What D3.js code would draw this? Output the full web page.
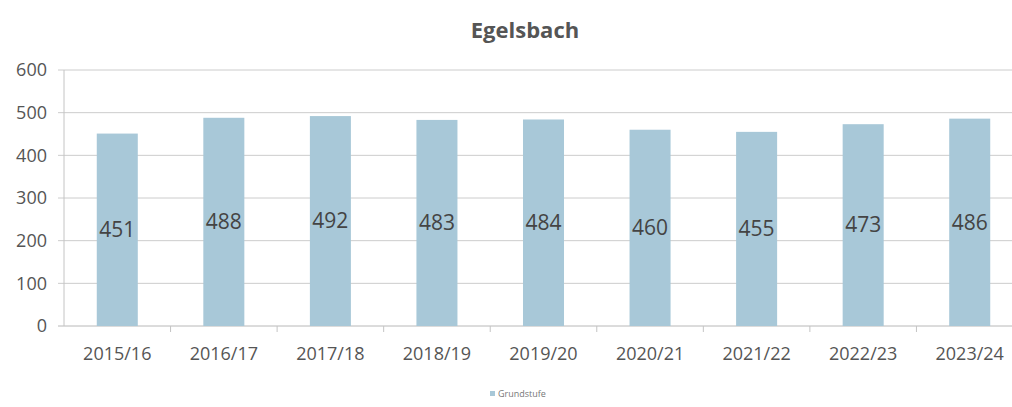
<!DOCTYPE html>
<html><head><meta charset="utf-8">
<script src="https://cdn.jsdelivr.net/npm/d3@7"></script>
<style>body{margin:0;background:#fff;}svg{display:block;}</style>
</head><body>
<svg id="c" width="1012" height="407"></svg>
<script>
const categories = ["2015/16","2016/17","2017/18","2018/19","2019/20","2020/21","2021/22","2022/23","2023/24"];
const values = [451,488,492,483,484,460,455,473,486];
const yTicks = [0,100,200,300,400,500,600];
const title = "Egelsbach";
const seriesName = "Grundstufe";

(function(){
const svg = d3.select("#c");
const mL = 64, mR = 1023, mT = 70, mB = 326;
const x = d3.scaleBand().domain(categories).range([mL, mR]).paddingInner(0.615).paddingOuter(0.3075);
const xb = d3.scaleBand().domain(categories).range([mL, mR]);
const y = d3.scaleLinear().domain([0,600]).range([mB, mT]);
const font = "'Open Sans', 'DejaVu Sans', sans-serif";

svg.append("g").selectAll("line").data(yTicks).join("line")
  .attr("x1", mL - 6).attr("x2", mR)
  .attr("y1", d => y(d)).attr("y2", d => y(d))
  .attr("stroke", d => d === 0 ? "#b8b8b8" : "#cccccc").attr("stroke-width", 1);
svg.append("line").attr("x1", mL).attr("x2", mL).attr("y1", mT).attr("y2", mB)
  .attr("stroke", "#c4c4c4");
svg.append("g").selectAll("line").data(categories.slice(1)).join("line")
  .attr("x1", d => xb(d)).attr("x2", d => xb(d)).attr("y1", mB).attr("y2", mB + 6)
  .attr("stroke", "#c4c4c4");
svg.append("g").selectAll("text").data(yTicks).join("text")
  .attr("x", 47).attr("y", d => y(d)).attr("dy", "0.35em").attr("text-anchor", "end")
  .attr("font-family", font).attr("font-size", 18).attr("fill", "#555").text(d => d);
svg.append("g").selectAll("rect").data(values).join("rect")
  .attr("x", (d,i) => x(categories[i])).attr("width", x.bandwidth())
  .attr("y", d => y(d)).attr("height", d => y(0) - y(d))
  .attr("fill", "#a8c8d8");
svg.append("g").selectAll("text").data(values).join("text")
  .attr("x", (d,i) => x(categories[i]) + x.bandwidth()/2)
  .attr("y", d => (y(d) + y(0))/2).attr("dy", "0.35em").attr("text-anchor", "middle")
  .attr("font-family", font).attr("font-size", 21).attr("fill", "#444").text(d => d);
svg.append("g").selectAll("text").data(categories).join("text")
  .attr("x", d => xb(d) + xb.bandwidth()/2).attr("y", 354).attr("dy", "0.35em").attr("text-anchor", "middle")
  .attr("font-family", font).attr("font-size", 18).attr("fill", "#555").text(d => d);
svg.append("text").attr("x", 525).attr("y", 30).attr("dy", "0.35em").attr("text-anchor", "middle")
  .attr("font-family", font).attr("font-weight", "bold").attr("font-size", 22).attr("fill", "#555").text(title);
const lg = svg.append("g");
lg.append("rect").attr("x", 490).attr("y", 391).attr("width", 5).attr("height", 5).attr("fill", "#a8c8d8");
lg.append("text").attr("x", 498).attr("y", 394).attr("dy", "0.35em")
  .attr("font-family", font).attr("font-size", 9).attr("fill", "#777").text(seriesName);
})();
</script>
</body></html>
